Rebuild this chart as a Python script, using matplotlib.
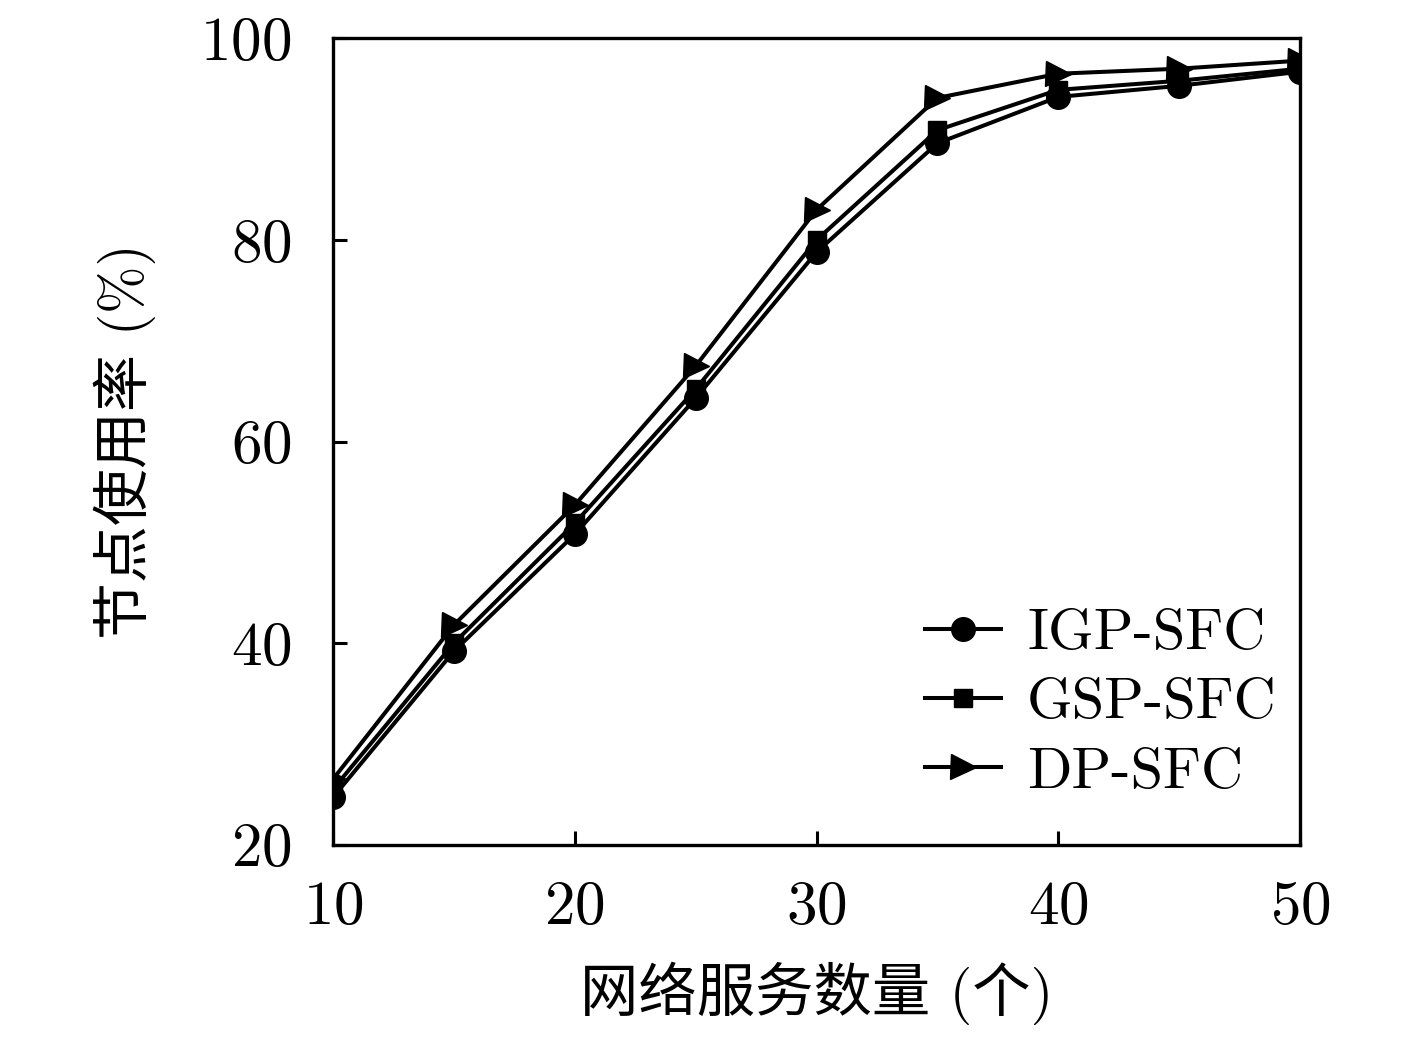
import matplotlib
matplotlib.use("Agg")
import matplotlib.pyplot as plt

plt.rcParams['font.family'] = ['cmr10', 'Noto Sans CJK SC', 'DejaVu Sans']
plt.rcParams['axes.formatter.use_mathtext'] = True

services = [10, 15, 20, 25, 30, 35, 40, 45, 50]
igp_sfc = [24.7, 39.2, 50.8, 64.3, 78.8, 89.6, 94.2, 95.3, 96.7]
gsp_sfc = [25.5, 40.0, 51.9, 65.2, 80.0, 90.9, 94.9, 95.8, 97.0]
dp_sfc = [26.5, 41.8, 53.7, 67.5, 83.0, 94.1, 96.5, 97.0, 97.8]

fig = plt.figure(figsize=(14.17, 10.39), dpi=100)
ax = fig.add_axes([0.235, 0.187, 0.6825, 0.776])

ax.plot(services, igp_sfc, color='black', lw=2.9, marker='o', ms=17, label='IGP-SFC')
ax.plot(services, gsp_sfc, color='black', lw=2.9, marker='s', ms=13, label='GSP-SFC')
ax.plot(services, dp_sfc, color='black', lw=2.9, marker='>', ms=18, label='DP-SFC')

ax.set_xlim(10, 50)
ax.set_ylim(20, 100)
ax.set_xticks([10, 20, 30, 40, 50])
ax.set_yticks([20, 40, 60, 80, 100])
ax.tick_params(direction='in', length=10, width=2.2, labelsize=44)
ax.tick_params(axis='x', pad=26)
ax.tick_params(axis='y', pad=30)
for s in ax.spines.values():
    s.set_linewidth(2.4)

ax.set_xlabel('网络服务数量 (个)', fontsize=42, labelpad=18)
ax.set_ylabel('节点使用率 (%)', fontsize=41, labelpad=32)

ax.legend(loc='lower right', frameon=False, fontsize=42, handlelength=1.3,
          handletextpad=0.45, labelspacing=0.3, borderaxespad=0,
          bbox_to_anchor=(1.0, 0.028))

fig.savefig('out.png', dpi=100)
